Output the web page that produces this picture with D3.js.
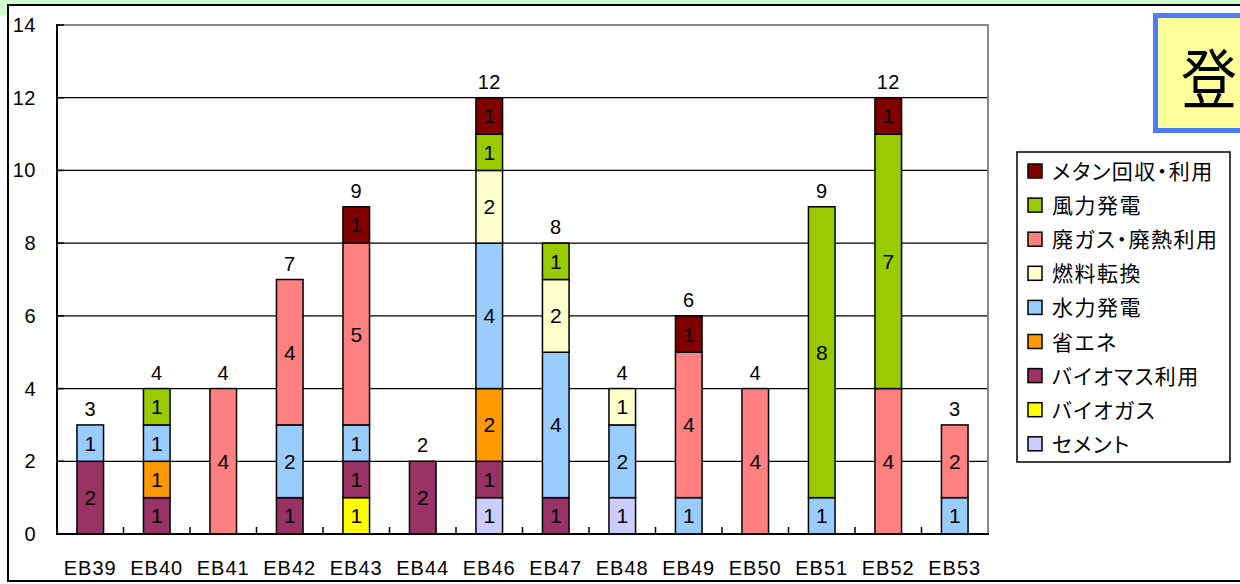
<!DOCTYPE html>
<html><head><meta charset="utf-8">
<script src="https://cdn.jsdelivr.net/npm/d3@7"></script>
<style>
html,body{margin:0;padding:0;background:#fff;overflow:hidden}
text{font-family:"Liberation Sans",Arial,sans-serif}
.jp{font-family:"Noto Sans CJK JP",sans-serif;font-feature-settings:"palt"}
</style></head>
<body><svg id="chart" width="1240" height="584"></svg>
<script>
const categories = ["EB39","EB40","EB41","EB42","EB43","EB44","EB46","EB47","EB48","EB49","EB50","EB51","EB52","EB53"];
// stacking order bottom -> top
const seriesNames = ["セメント","バイオガス","バイオマス利用","省エネ","水力発電","燃料転換","廃ガス・廃熱利用","風力発電","メタン回収・利用"];
const seriesColors = ["#ccccff","#ffff00","#993366","#ff9900","#99ccff","#ffffcc","#ff8080","#99cc00","#800000"];
const cement    = [0,0,0,0,0,0,1,0,1,0,0,0,0,0];
const biogas    = [0,0,0,0,1,0,0,0,0,0,0,0,0,0];
const biomass   = [2,1,0,1,1,2,1,1,0,0,0,0,0,0];
const energySave= [0,1,0,0,0,0,2,0,0,0,0,0,0,0];
const hydro     = [1,1,0,2,1,0,4,4,2,1,0,1,0,1];
const fuelSwitch= [0,0,0,0,0,0,2,2,1,0,0,0,0,0];
const wasteGas  = [0,0,4,4,5,0,0,0,0,4,4,0,4,2];
const wind      = [0,1,0,0,0,0,1,1,0,0,0,8,7,0];
const methane   = [0,0,0,0,1,0,1,0,0,1,0,0,1,0];
const seriesValues = [cement,biogas,biomass,energySave,hydro,fuelSwitch,wasteGas,wind,methane];
const yTicks = [0,2,4,6,8,10,12,14];
const legendOrder = ["メタン回収・利用","風力発電","廃ガス・廃熱利用","燃料転換","水力発電","省エネ","バイオマス利用","バイオガス","セメント"];
const titleText = "登";

const svg = d3.select("#chart");
// background frame
svg.append("rect").attr("x",0).attr("y",0).attr("width",1240).attr("height",5).attr("fill","#ccffcc");
svg.append("rect").attr("x",0).attr("y",0).attr("width",8).attr("height",15).attr("fill","#ccffcc");
svg.append("rect").attr("x",8).attr("y",5).attr("width",1300).attr("height",576)
  .attr("fill","#fff").attr("stroke","#000").attr("stroke-width",2);

const L=57, R=988, T=25, B=534;
const x = d3.scaleBand().domain(categories).range([L,R]).paddingInner(0.6).paddingOuter(0.3);
const y = d3.scaleLinear().domain([0,14]).range([B,T]);

// gridlines
svg.append("g").selectAll("line").data(yTicks.filter(d=>d>0&&d<14)).join("line")
  .attr("x1",L).attr("x2",R).attr("y1",d=>y(d)).attr("y2",d=>y(d))
  .attr("stroke","#000").attr("stroke-width",1.3);
// plot border top/right gray
svg.append("line").attr("x1",L).attr("x2",R+1).attr("y1",y(14)).attr("y2",y(14)).attr("stroke","#888").attr("stroke-width",2);
svg.append("line").attr("x1",R).attr("x2",R).attr("y1",y(14)).attr("y2",B).attr("stroke","#888").attr("stroke-width",2);

// stacked data
const table = categories.map((c,i)=>{const o={cat:c}; seriesNames.forEach((s,j)=>o[s]=seriesValues[j][i]); return o;});
const stack = d3.stack().keys(seriesNames)(table);
const color = d3.scaleOrdinal().domain(seriesNames).range(seriesColors);

const layers = svg.append("g").selectAll("g").data(stack).join("g").attr("fill",d=>color(d.key));
layers.selectAll("rect").data(d=>d.filter(p=>p[1]-p[0]>0)).join("rect")
  .attr("x",d=>x(d.data.cat)).attr("width",x.bandwidth())
  .attr("y",d=>y(d[1])).attr("height",d=>y(d[0])-y(d[1]))
  .attr("stroke","#000").attr("stroke-width",1.5);
layers.selectAll("text").data(d=>d.filter(p=>p[1]-p[0]>0)).join("text")
  .attr("x",d=>x(d.data.cat)+x.bandwidth()/2).attr("y",d=>(y(d[0])+y(d[1]))/2+7.5)
  .attr("text-anchor","middle").attr("fill","#000").attr("font-size",21)
  .text(d=>d[1]-d[0]);

// totals
const totals = categories.map((c,i)=>seriesValues.reduce((a,s)=>a+s[i],0));
svg.append("g").selectAll("text").data(categories).join("text")
  .attr("x",d=>x(d)+x.bandwidth()/2).attr("y",(d,i)=>y(totals[i])-9)
  .attr("text-anchor","middle").attr("font-size",20).attr("letter-spacing",0.5).text((d,i)=>totals[i]);

// axes
svg.append("line").attr("x1",L).attr("x2",L).attr("y1",T-1).attr("y2",B+1).attr("stroke","#000").attr("stroke-width",2);
svg.append("line").attr("x1",L-1).attr("x2",R+1).attr("y1",B).attr("y2",B).attr("stroke","#000").attr("stroke-width",2);
svg.append("g").selectAll("line").data(d3.range(1,categories.length)).join("line")
  .attr("x1",k=>L+x.step()*k).attr("x2",k=>L+x.step()*k).attr("y1",B).attr("y2",B-7)
  .attr("stroke","#000").attr("stroke-width",1.5);
svg.append("g").selectAll("line").data(yTicks).join("line")
  .attr("x1",L).attr("x2",L+7).attr("y1",d=>y(d)).attr("y2",d=>y(d)).attr("stroke","#000").attr("stroke-width",1.5);
svg.append("g").selectAll("text").data(yTicks).join("text")
  .attr("x",36).attr("y",d=>y(d)+7).attr("text-anchor","end").attr("font-size",20).attr("letter-spacing",0.5).text(d=>d);
svg.append("g").selectAll("text").data(categories).join("text")
  .attr("x",d=>x(d)+x.bandwidth()/2).attr("y",575).attr("text-anchor","middle")
  .attr("font-size",20).attr("letter-spacing",1).text(d=>d);

// legend
const lg = svg.append("g");
lg.append("rect").attr("x",1017).attr("y",152).attr("width",213).attr("height",310)
  .attr("fill","#fff").attr("stroke","#000").attr("stroke-width",1.5);
const li = lg.selectAll("g.item").data(legendOrder).join("g").attr("class","item")
  .attr("transform",(d,i)=>`translate(1028,${171+i*34.1})`);
li.append("rect").attr("x",0).attr("y",-7).attr("width",14).attr("height",14)
  .attr("fill",d=>color(d)).attr("stroke","#000").attr("stroke-width",1.5);
li.append("text").attr("class","jp").attr("x",24).attr("y",8).attr("font-size",21)
  .attr("letter-spacing",1.5).text(d=>d);

// title box (partially visible)
svg.append("rect").attr("x",1155.5).attr("y",15.5).attr("width",200).attr("height",115)
  .attr("fill","#ffff99").attr("stroke","#4a7cff").attr("stroke-width",5);
svg.append("text").attr("class","jp").attr("transform","translate(1181,103) scale(1,1.15)")
  .attr("font-size",56).text(titleText);
</script></body></html>
